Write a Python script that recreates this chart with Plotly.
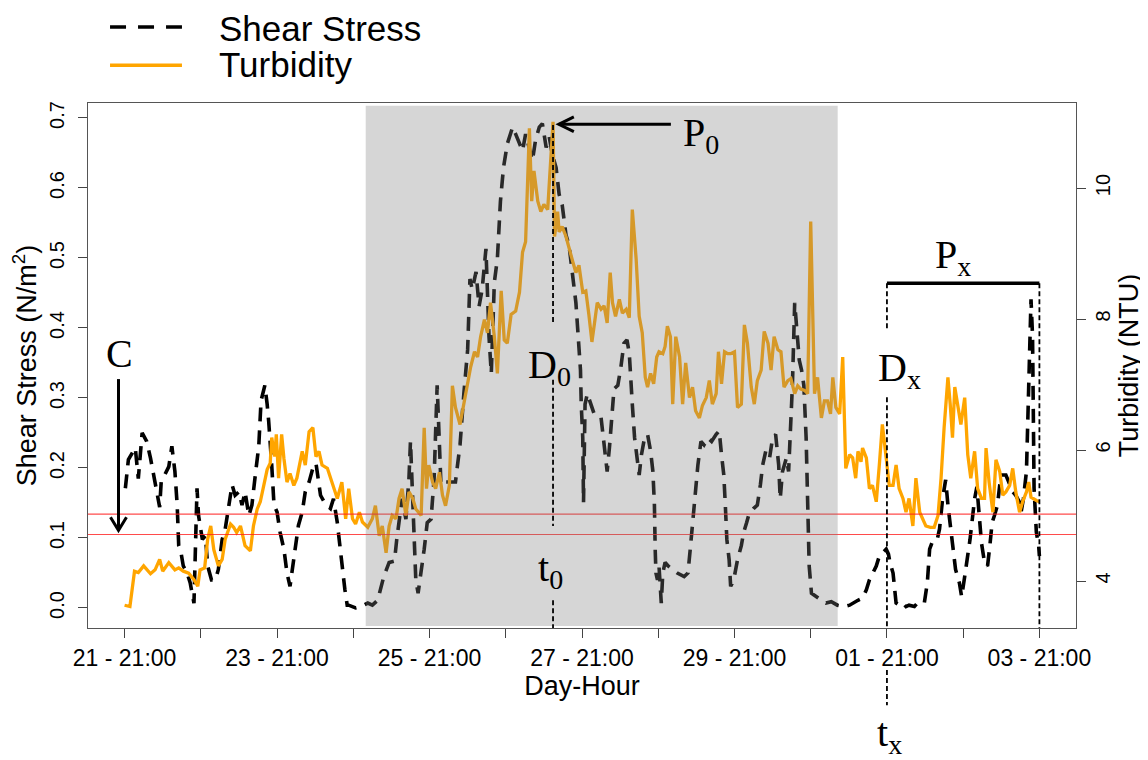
import plotly.graph_objects as go

# ---------------- data (days since 21 - 21:00) ----------------
turb_day = [0.00,0.07,0.13,0.18,0.25,0.34,0.40,0.46,0.50,0.58,0.66,0.71,0.77,0.84,0.91,0.96,0.99,1.05,1.09,1.13,
            1.17,1.23,1.28,1.32,1.39,1.43,1.47,1.52,1.58,1.65,1.69,1.74,1.78,1.82,1.87,1.91,1.93,1.97,1.99,2.02,
            2.06,2.09,2.13,2.17,2.22,2.26,2.33,2.37,2.42,2.47,2.51,2.55,2.59,2.66,2.72,2.79,2.85,2.90,
            2.94,2.99,3.03,3.08,3.12,3.19,3.25,3.29,3.34,3.38,3.43,3.47,3.51,3.56,3.60,3.64,3.69,3.73,3.78,3.82,
            3.89,3.93,3.96,3.99,4.04,4.08,4.13,4.17,4.21,4.26,4.30,4.34,4.40,4.45,4.50,4.54,4.59,4.63,4.67,4.72,
            4.76,4.80,4.85,4.89,4.94,4.98,5.02,5.07,5.13,5.18,5.22,5.26,5.31,5.34,5.37,5.42,5.46,5.50,5.55,5.62,
            5.64,5.68,5.70,5.74,5.79,5.83,5.88,5.92,5.96,6.01,6.05,6.09,6.13,
            6.17,6.20,6.25,6.29,6.33,6.37,6.40,6.44,6.49,6.53,6.58,6.62,6.66,6.71,6.75,6.79,6.83,6.86,6.90,6.94,
            6.98,7.01,7.06,7.09,7.12,7.16,7.19,7.23,7.28,7.32,7.36,7.41,7.45,7.49,7.54,7.58,7.63,7.67,7.71,7.76,
            7.79,7.83,7.87,7.91,7.95,8.00,8.04,8.09,8.13,8.17,8.22,8.26,8.30,8.35,8.39,8.44,8.48,8.52,8.57,8.61,
            8.65,8.70,8.74,8.79,8.83,8.87,8.92,8.96,9.00,9.05,9.09,9.14,9.18,9.22,9.26,9.29,9.33,9.38,9.42,9.46,
            9.51,9.55,9.59,9.62,9.66,9.68,9.73,9.77,9.81,9.86,9.90,9.94,9.99,10.03,10.08,10.12,10.16,10.21,10.25,
            10.29,10.34,10.38,10.43,10.47,10.51,10.57,10.62,10.67,10.71,10.75,10.80,10.83,10.86,10.89,10.93,10.97,
            11.02,11.06,11.10,11.15,11.19,11.24,11.28,11.30,11.34,11.39,11.43,11.48,11.52,11.56,11.61,11.65,11.69,
            11.74,11.78,11.83,11.86,11.89,11.96,12.00]
turb_ntu = [3.63,3.61,4.15,4.13,4.23,4.11,4.17,4.33,4.15,4.28,4.17,4.20,4.15,4.12,4.02,3.92,4.17,4.20,4.64,4.84,
            4.48,4.23,4.33,4.64,4.87,4.82,4.74,4.84,4.54,4.46,4.84,5.10,5.21,5.41,5.70,5.80,6.19,5.90,6.24,5.57,
            6.24,5.87,5.51,5.64,5.46,5.57,5.98,5.77,6.28,6.34,5.90,5.98,5.77,5.72,5.51,5.26,5.51,4.95,
            5.41,4.95,4.87,5.05,4.90,4.82,4.95,5.15,4.69,4.84,4.43,4.84,5.00,4.95,5.26,5.41,5.00,5.36,5.26,5.10,
            5.00,6.34,5.41,5.77,5.51,5.41,5.66,5.31,5.15,5.46,6.98,6.65,6.39,6.70,6.96,7.27,7.50,7.42,7.73,7.99,
            7.79,8.25,7.73,7.17,8.43,7.68,7.63,8.07,8.12,8.41,9.02,9.18,10.91,9.80,10.26,9.80,9.64,9.75,9.67,11.01,
            9.26,9.64,9.33,9.41,9.26,9.07,8.87,8.71,8.82,8.41,8.43,8.07,7.65,
            7.99,8.25,8.15,8.20,7.94,8.71,8.25,8.04,8.30,8.09,8.15,8.02,9.67,8.92,8.04,7.79,7.11,6.96,7.17,7.01,
            7.42,7.50,7.47,7.58,7.89,7.73,6.70,7.73,7.42,6.70,7.33,6.80,6.96,6.60,6.49,6.68,6.80,7.06,6.70,6.86,
            7.50,7.01,7.50,7.47,7.47,7.50,6.65,6.70,7.91,7.63,6.96,6.70,7.06,7.22,7.81,7.63,7.22,7.73,7.53,7.50,
            6.96,7.06,7.09,6.86,6.98,6.93,6.91,6.86,9.49,6.86,7.11,6.49,6.75,6.75,6.55,7.11,6.65,6.55,7.42,5.72,
            5.93,5.88,5.57,5.98,5.82,6.03,5.88,5.41,5.46,5.21,5.77,6.39,5.88,5.46,5.46,5.77,5.41,5.26,5.05,
            5.26,4.84,5.57,5.05,4.95,4.84,4.82,4.82,5.00,5.57,6.34,7.11,6.70,6.19,6.96,6.70,6.39,
            6.80,5.93,5.57,5.98,5.41,5.26,5.26,6.03,5.51,5.05,5.85,5.67,5.31,5.36,5.46,5.72,5.36,
            5.05,5.21,5.36,5.51,5.28,5.23,5.21]

shear_day = [0.01,0.05,0.14,0.18,0.23,0.29,0.34,0.38,0.42,0.46,0.48,0.53,0.58,0.62,0.66,0.69,0.71,0.74,0.77,0.82,
             0.86,0.91,0.93,0.95,0.97,1.02,1.06,1.09,1.14,1.19,1.23,1.28,1.32,1.37,1.41,1.45,1.50,1.54,1.58,1.63,
             1.67,1.72,1.76,1.79,1.84,1.87,1.89,1.93,1.96,2.00,2.04,2.09,2.13,2.17,2.21,2.24,2.28,2.33,2.37,2.42,
             2.47,2.51,2.54,2.57,2.63,2.70,2.74,2.79,2.82,2.85,2.89,2.92,
             2.94,3.03,3.10,3.19,3.25,3.32,3.36,3.40,3.47,3.54,3.57,3.60,3.64,3.69,3.73,3.75,3.78,3.82,3.85,3.89,
             3.93,3.97,4.02,4.06,4.10,4.15,4.21,4.34,4.40,4.45,4.50,4.53,4.56,4.61,4.65,4.69,4.74,4.78,4.81,4.85,
             4.89,4.93,4.97,5.02,5.09,5.13,5.18,5.22,5.26,5.31,5.35,5.39,5.44,5.48,5.53,5.57,5.61,5.66,5.70,5.74,
             5.79,5.83,5.88,5.92,5.95,5.98,5.99,6.01,6.02,6.04,6.07,6.16,6.25,
             6.29,6.33,6.36,6.39,6.42,6.47,6.51,6.55,6.59,6.62,6.64,6.66,6.69,6.72,6.75,6.78,6.82,6.86,6.90,6.93,
             6.95,6.96,6.97,6.99,7.01,7.04,7.06,7.09,7.13,7.19,7.25,7.34,7.39,7.42,7.45,7.48,7.52,7.56,7.60,7.65,
             7.70,7.76,7.80,7.83,7.86,7.88,7.90,7.93,7.95,7.99,8.04,8.09,8.12,8.16,8.19,8.25,8.30,8.34,8.37,8.41,
             8.46,8.50,8.54,8.58,8.60,8.63,8.68,8.71,8.74,8.76,8.79,8.82,8.85,8.88,8.91,8.94,8.96,8.98,9.01,9.07,
             9.14,9.20,9.27,9.35,9.44,
             9.51,9.55,9.62,9.68,9.73,9.77,9.81,9.86,9.90,9.94,9.99,10.02,10.04,10.08,10.10,10.12,10.16,10.21,10.25,
             10.29,10.36,10.40,10.49,10.53,10.56,10.60,10.66,10.69,10.73,10.77,10.80,10.84,10.87,10.90,10.95,10.98,
             11.02,11.06,11.09,11.12,11.15,11.18,11.21,11.24,11.28,11.32,11.35,11.38,11.41,11.45,11.48,11.51,11.56,
             11.61,11.65,11.69,11.74,11.76,11.79,11.83,11.85,11.87,11.89,11.91,11.93,11.96,11.99,12.00]
shear_nm2 = [0.171,0.212,0.229,0.185,0.250,0.238,0.214,0.190,0.161,0.144,0.180,0.190,0.202,0.231,0.195,0.147,0.089,
             0.079,0.060,0.050,0.036,0.007,0.074,0.171,0.132,0.098,0.103,0.060,0.040,0.040,0.055,0.098,0.113,0.147,
             0.176,0.161,0.166,0.147,0.166,0.132,0.147,0.195,0.231,0.296,0.318,0.291,0.267,0.204,0.147,0.137,0.108,
             0.084,0.050,0.031,0.060,0.084,0.118,0.137,0.166,0.180,0.200,0.207,0.180,0.161,0.149,0.142,0.156,0.122,
             0.093,0.060,0.026,0.004,
             0.004,0.000,0.002,0.007,0.004,0.011,0.026,0.045,0.065,0.067,0.098,0.122,0.156,0.127,0.185,0.238,0.147,
             0.040,0.021,0.050,0.084,0.122,0.127,0.185,0.318,0.176,0.180,0.180,0.233,0.306,0.369,0.470,0.455,0.480,
             0.431,0.455,0.513,0.388,0.335,0.465,0.499,0.581,0.629,0.663,0.687,0.677,0.663,0.653,0.677,0.658,0.639,
             0.668,0.687,0.692,0.658,0.673,0.648,0.629,0.591,0.576,0.533,0.518,0.475,0.436,0.388,0.340,0.291,0.243,
             0.151,0.291,0.306,0.277,0.272,
             0.229,0.195,0.229,0.277,0.313,0.318,0.344,0.378,0.383,0.364,0.313,0.291,0.243,0.214,0.190,0.219,0.243,
             0.248,0.224,0.195,0.147,0.084,0.050,0.040,0.060,0.007,0.050,0.065,0.060,0.055,0.050,0.045,0.050,0.084,
             0.122,0.161,0.204,0.238,0.233,0.243,0.238,0.248,0.253,0.219,0.190,0.147,0.098,0.069,0.031,0.040,0.069,
             0.089,0.108,0.122,0.134,0.142,0.147,0.176,0.204,0.224,0.214,0.243,0.248,0.204,0.156,0.195,0.214,0.195,
             0.267,0.318,0.436,0.398,0.354,0.340,0.318,0.243,0.147,0.060,0.021,0.016,0.011,0.007,0.009,0.004,0.002,
             0.004,0.007,0.011,0.014,0.026,0.040,0.050,0.060,0.074,0.079,0.084,0.077,0.065,0.050,0.026,0.007,0.004,
             0.007,0.002,0.004,0.002,0.007,0.007,0.036,0.084,0.096,0.098,0.113,0.156,0.183,0.147,0.113,0.084,0.055,
             0.036,0.016,0.045,0.074,0.098,0.127,0.156,0.173,0.132,0.093,0.065,0.060,0.089,0.122,0.132,0.147,0.176,
             0.190,0.190,0.176,0.166,0.161,0.151,0.137,0.156,0.195,0.291,0.364,0.441,0.388,0.171,0.108,0.089,0.074]

label_days = [0, 2, 4, 6, 8, 10, 12]
day_labels = ["21 - 21:00", "23 - 21:00", "25 - 21:00", "27 - 21:00", "29 - 21:00", "01 - 21:00", "03 - 21:00"]
shear_ticks = [0.0, 0.1, 0.2, 0.3, 0.4, 0.5, 0.6, 0.7]
shear_labels = ["0.0", "0.1", "0.2", "0.3", "0.4", "0.5", "0.6", "0.7"]
turb_ticks = [4, 6, 8, 10]

red_levels = [0.134, 0.105]          # shear stress thresholds
event_start, event_end = 3.163, 9.354
t0_day, tx_day, px_end_day = 5.62, 10.0, 12.0
peak_shear = 0.69

# ---------------- figure ----------------
SERIF = "Liberation Serif, Times New Roman, serif"
SANS = "Liberation Sans, Arial, sans-serif"
BLACK = "#000000"
ORANGE = "#FFA500"

fig = go.Figure()
fig.add_trace(go.Scatter(x=shear_day, y=shear_nm2, mode="lines", name="Shear Stress",
                         line=dict(color=BLACK, width=3.6, dash="14px,9px"), yaxis="y",
                         showlegend=False))
fig.add_trace(go.Scatter(x=turb_day, y=turb_ntu, mode="lines", name="Turbidity",
                         line=dict(color=ORANGE, width=3.3), yaxis="y2", showlegend=False))

shapes = []
for lv in red_levels:
    shapes.append(dict(type="line", xref="paper", x0=0, x1=1, yref="y", y0=lv, y1=lv,
                       line=dict(color="rgba(255,30,30,0.8)", width=1.2), layer="above"))
shapes.append(dict(type="rect", xref="x", x0=event_start, x1=event_end, yref="paper", y0=0.004, y1=0.995,
                   fillcolor="rgba(128,128,128,0.32)", line=dict(width=0), layer="above"))

dot = dict(color=BLACK, width=1.8, dash="5px,3px")
ybot = -0.0286
# t0 line
for a, b in [(peak_shear, 0.407), (0.326, 0.117), (0.011, ybot)]:
    shapes.append(dict(type="line", xref="x", x0=t0_day, x1=t0_day, yref="y", y0=a, y1=b, line=dot, layer="above"))
# tx line
px_bar = 0.464
for a, b in [(px_bar, 0.396), (0.301, ybot)]:
    shapes.append(dict(type="line", xref="x", x0=tx_day, x1=tx_day, yref="y", y0=a, y1=b, line=dot, layer="above"))
shapes.append(dict(type="line", xref="x", x0=tx_day, x1=tx_day, yref="paper", y0=-0.08, y1=-0.147, line=dot, layer="above"))
shapes.append(dict(type="line", xref="x", x0=px_end_day, x1=px_end_day, yref="y", y0=px_bar, y1=ybot, line=dot, layer="above"))
# Px bracket bar
shapes.append(dict(type="line", xref="x", x0=tx_day, x1=px_end_day, yref="y", y0=px_bar, y1=px_bar,
                   line=dict(color=BLACK, width=3.5), layer="above"))
# C arrow
cx, ctop, ctip = -0.08, 0.327, 0.111
shapes.append(dict(type="line", xref="x", x0=cx, x1=cx, yref="y", y0=ctop, y1=ctip,
                   line=dict(color=BLACK, width=3), layer="above"))
shapes.append(dict(type="path", xref="x", yref="y",
                   path=f"M {cx-0.105},{ctip+0.0186} L {cx},{ctip} L {cx+0.105},{ctip+0.0186}",
                   line=dict(color=BLACK, width=3), layer="above"))
# P0 arrow
p_y, p_tail, p_tip = 0.691, 7.166, 5.696
shapes.append(dict(type="line", xref="x", x0=p_tail, x1=p_tip, yref="y", y0=p_y, y1=p_y,
                   line=dict(color=BLACK, width=3), layer="above"))
shapes.append(dict(type="path", xref="x", yref="y",
                   path=f"M {p_tip+0.197},{p_y+0.0105} L {p_tip},{p_y} L {p_tip+0.197},{p_y-0.0105}",
                   line=dict(color=BLACK, width=3), layer="above"))
# legend samples
shapes.append(dict(type="line", xref="paper", yref="paper", x0=0.0223, x1=0.0951, y0=1.1447, y1=1.1447,
                   line=dict(color=BLACK, width=3.5, dash="16px,12px")))
shapes.append(dict(type="line", xref="paper", yref="paper", x0=0.0223, x1=0.0951, y0=1.072, y1=1.072,
                   line=dict(color=ORANGE, width=3.5)))

ann_font = dict(family=SERIF, size=40, color=BLACK)
annotations = [
    dict(text="Shear Stress", xref="paper", yref="paper", x=0.1306, y=1.141, xanchor="left", yanchor="middle",
         showarrow=False, font=dict(family=SANS, size=35, color=BLACK)),
    dict(text="Turbidity", xref="paper", yref="paper", x=0.1306, y=1.074, xanchor="left", yanchor="middle",
         showarrow=False, font=dict(family=SANS, size=35, color=BLACK)),
    dict(text="C", xref="x", yref="y", x=-0.066, y=0.364, showarrow=False, font=ann_font),
    dict(text="P<sub>0</sub>", xref="x", yref="y", x=7.56, y=0.676, showarrow=False, font=ann_font),
    dict(text="D<sub>0</sub>", xref="x", yref="y", x=5.578, y=0.344, showarrow=False, font=ann_font),
    dict(text="t<sub>0</sub>", xref="x", yref="y", x=5.59, y=0.054, showarrow=False, font=ann_font),
    dict(text="D<sub>x</sub>", xref="x", yref="y", x=10.17, y=0.34, showarrow=False, font=ann_font),
    dict(text="P<sub>x</sub>", xref="x", yref="y", x=10.87, y=0.501, showarrow=False, font=ann_font),
    dict(text="t<sub>x</sub>", xref="x", yref="paper", x=10.04, y=-0.255, showarrow=False, font=ann_font),
]

axis_common = dict(showgrid=False, zeroline=False, ticks="outside", ticklen=9, tickcolor="#444")
fig.update_layout(
    width=1140, height=752,
    margin=dict(l=80, r=72, t=95, b=132, autoexpand=False),
    paper_bgcolor="white", plot_bgcolor="white",
    font=dict(family=SANS, color=BLACK),
    xaxis=dict(range=[-0.48, 12.48], tickmode="array", tickvals=label_days, ticktext=day_labels,
               minor=dict(tickmode="linear", tick0=0, dtick=1, ticks="outside", ticklen=9, tickcolor="#444"),
               showline=True, mirror=True, linecolor="#555", linewidth=1,
               tickfont=dict(family=SANS, size=23, color=BLACK),
               title=dict(text="Day-Hour", font=dict(family=SANS, size=27), standoff=0),
               **axis_common),
    yaxis=dict(range=[-0.0286, 0.7214], tickvals=shear_ticks, ticktext=shear_labels, tickangle=-90,
               showline=True, mirror=True, linecolor="#555", linewidth=1,
               tickfont=dict(family=SANS, size=20, color=BLACK), ticklabelstandoff=6,
               title=dict(text="Shear Stress (N/m<sup>2</sup>)", font=dict(family=SANS, size=27), standoff=4),
               **axis_common),
    yaxis2=dict(range=[3.2824, 11.298], tickvals=turb_ticks, overlaying="y", side="right", tickangle=-90,
                showline=False, tickfont=dict(family=SANS, size=20, color=BLACK),
                title=dict(text="Turbidity (NTU)", font=dict(family=SANS, size=27), standoff=4),
                **axis_common),
    shapes=shapes, annotations=annotations,
)
fig.write_html("out.html")
